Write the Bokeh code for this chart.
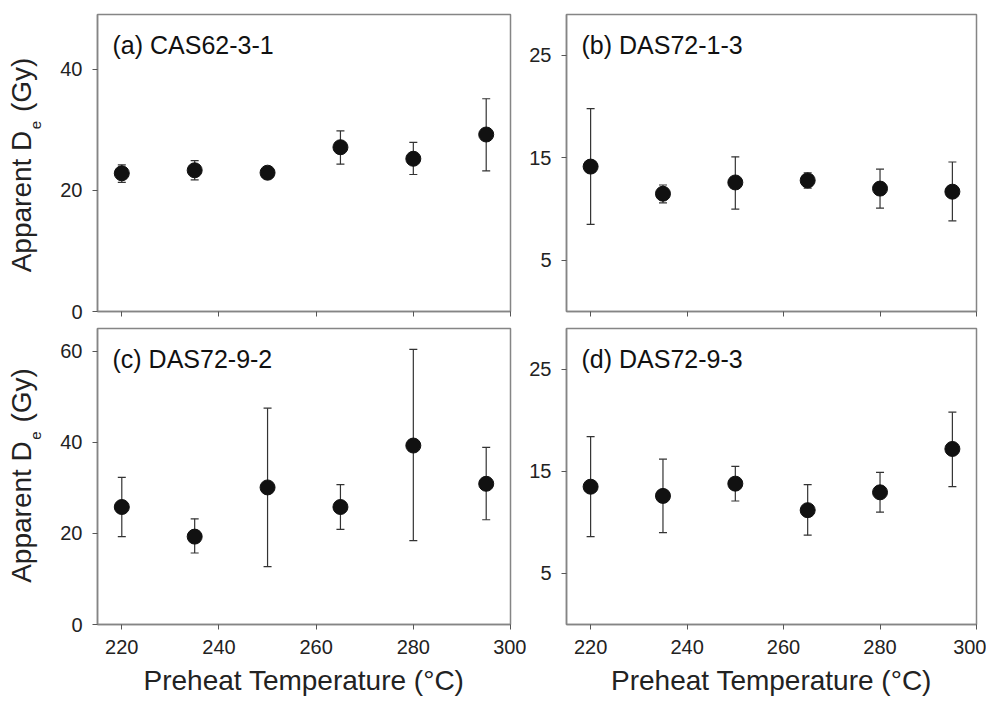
import math
from bokeh.plotting import figure
from bokeh.models import ColumnDataSource, Whisker, TeeHead, Label, Range1d, FixedTicker
from bokeh.layouts import gridplot
from bokeh.embed import file_html
from bokeh.resources import INLINE

# ---------------- data ----------------
temps = [220, 235, 250, 265, 280, 295]

a_de = [22.8, 23.3, 22.9, 27.1, 25.2, 29.2]
a_hi = [24.2, 24.9, 23.8, 29.8, 27.9, 35.1]
a_lo = [21.3, 21.7, 21.9, 24.3, 22.6, 23.2]

b_de = [14.15, 11.5, 12.6, 12.8, 12.0, 11.7]
b_hi = [19.8, 12.35, 15.1, 13.55, 13.9, 14.6]
b_lo = [8.5, 10.6, 10.0, 12.05, 10.1, 8.85]

c_de = [25.8, 19.3, 30.1, 25.8, 39.3, 30.9]
c_hi = [32.3, 23.2, 47.5, 30.7, 60.4, 38.9]
c_lo = [19.3, 15.7, 12.7, 20.9, 18.4, 23.0]

d_de = [13.5, 12.6, 13.8, 11.2, 12.95, 17.2]
d_hi = [18.4, 16.2, 15.5, 13.7, 14.9, 20.8]
d_lo = [8.6, 9.0, 12.1, 8.75, 11.0, 13.5]

x_ticks = [220, 240, 260, 280, 300]
a_ticks = [0, 20, 40]
b_ticks = [5, 15, 25]
c_ticks = [0, 20, 40, 60]
d_ticks = [5, 15, 25]

titles = ["(a) CAS62-3-1", "(b) DAS72-1-3", "(c) DAS72-9-2", "(d) DAS72-9-3"]
x_label = "Preheat Temperature (\u00b0C)"
y_label_main = "Apparent D"
y_label_sub = "e"
y_label_tail = "(Gy)"

FONT = "Liberation Sans"
FRAME_COL = "#858585"
TICK_COL = "#555555"
TEXT_COL = "#222222"


def make_panel(title, de, hi, lo, ymax, yticks, width, height,
               bl, br, bt, bb, bottom_row):
    p = figure(width=width, height=height,
               x_range=Range1d(215, 300), y_range=Range1d(0, ymax),
               output_backend="svg", toolbar_location=None,
               min_border_left=bl, min_border_right=br,
               min_border_top=bt, min_border_bottom=bb)
    p.grid.visible = False
    p.outline_line_color = FRAME_COL
    p.outline_line_width = 1.5
    p.background_fill_color = "white"
    p.border_fill_color = "white"

    for ax in (p.xaxis[0], p.yaxis[0]):
        ax.axis_line_color = FRAME_COL
        ax.axis_line_width = 1.5
        ax.major_tick_line_color = TICK_COL
        ax.major_tick_line_width = 1
        ax.major_tick_out = 5
        ax.major_tick_in = 0
        ax.minor_tick_line_color = None
        ax.major_label_text_font = FONT
        ax.major_label_text_font_size = "20px"
        ax.major_label_text_color = TEXT_COL

    p.xaxis.ticker = FixedTicker(ticks=x_ticks)
    p.yaxis.ticker = FixedTicker(ticks=yticks)
    p.yaxis.major_label_standoff = 10

    if bottom_row:
        p.xaxis.major_label_standoff = 10
        p.xaxis.axis_label = x_label
        p.xaxis.axis_label_text_font = FONT
        p.xaxis.axis_label_text_font_size = "28px"
        p.xaxis.axis_label_text_font_style = "normal"
        p.xaxis.axis_label_text_color = TEXT_COL
        p.xaxis.axis_label_standoff = 8
    else:
        p.xaxis.major_label_text_color = None
        p.xaxis.major_label_standoff = 0

    src = ColumnDataSource(dict(x=temps, de=de, hi=hi, lo=lo))
    w = Whisker(source=src, base="x", upper="hi", lower="lo",
                line_color="#333333", line_width=1.2,
                upper_head=TeeHead(size=8, line_color="#333333", line_width=1.2),
                lower_head=TeeHead(size=8, line_color="#333333", line_width=1.2))
    p.add_layout(w)
    p.scatter("x", "de", source=src, size=15, fill_color="#111111",
              line_color="#111111")

    fh = height - bt - bb
    p.add_layout(Label(x=15, y=fh - 30, x_units="screen", y_units="screen",
                       text=title, text_font=FONT, text_font_size="25px",
                       text_color="#111111", text_align="left",
                       text_baseline="alphabetic"))
    return p


def make_ylabel(width, height, frame_bottom_from_canvas_bottom, frame_h, nudge):
    """Narrow figure that carries the rotated y-axis title with a subscript."""
    q = figure(frame_width=width, frame_height=height,
               x_range=Range1d(0, width), y_range=Range1d(0, height),
               output_backend="svg", title=None,
               toolbar_location=None, x_axis_location=None,
               y_axis_location=None, min_border=0,
               min_border_left=0, min_border_right=0,
               min_border_top=0, min_border_bottom=0)
    q.grid.visible = False
    q.outline_line_color = None
    q.border_fill_color = "white"
    main_len = 5.058 * 28
    sub_len = 0.556 * 15
    space = 0.278 * 28
    tail_len = 1.944 * 28
    total = main_len + 1.5 + sub_len + 1 + space + tail_len
    y0 = frame_bottom_from_canvas_bottom + (frame_h - total) / 2 + nudge
    common = dict(x_units="screen", y_units="screen", angle=math.pi / 2,
                  text_font=FONT, text_color=TEXT_COL, text_align="left",
                  text_baseline="alphabetic")
    q.add_layout(Label(x=21, y=y0, text=y_label_main,
                       text_font_size="28px", **common))
    q.add_layout(Label(x=35, y=y0 + main_len + 1.5, text=y_label_sub,
                       text_font_size="15px", **common))
    q.add_layout(Label(x=21, y=y0 + main_len + 1.5 + sub_len + 1 + space,
                       text=y_label_tail, text_font_size="28px", **common))
    return q


LABW = 50
LW, RW = 476, 460
TH, BH = 323, 380

l1 = make_ylabel(LABW, TH, 12, TH - 14 - 12, 12)
p1 = make_panel(titles[0], a_de, a_hi, a_lo, 49, a_ticks, LW, TH, 47, 16, 14, 12, False)
p2 = make_panel(titles[1], b_de, b_hi, b_lo, 29, b_ticks, RW, TH, 37, 10, 14, 12, False)
l3 = make_ylabel(LABW, BH, 79, BH - 5 - 79, 6)
p3 = make_panel(titles[2], c_de, c_hi, c_lo, 65, c_ticks, LW, BH, 47, 16, 5, 79, True)
p4 = make_panel(titles[3], d_de, d_hi, d_lo, 29, d_ticks, RW, BH, 37, 10, 5, 79, True)

grid = gridplot([[l1, p1, p2], [l3, p3, p4]], toolbar_location=None)

open("out.html", "w").write(file_html(grid, INLINE))
